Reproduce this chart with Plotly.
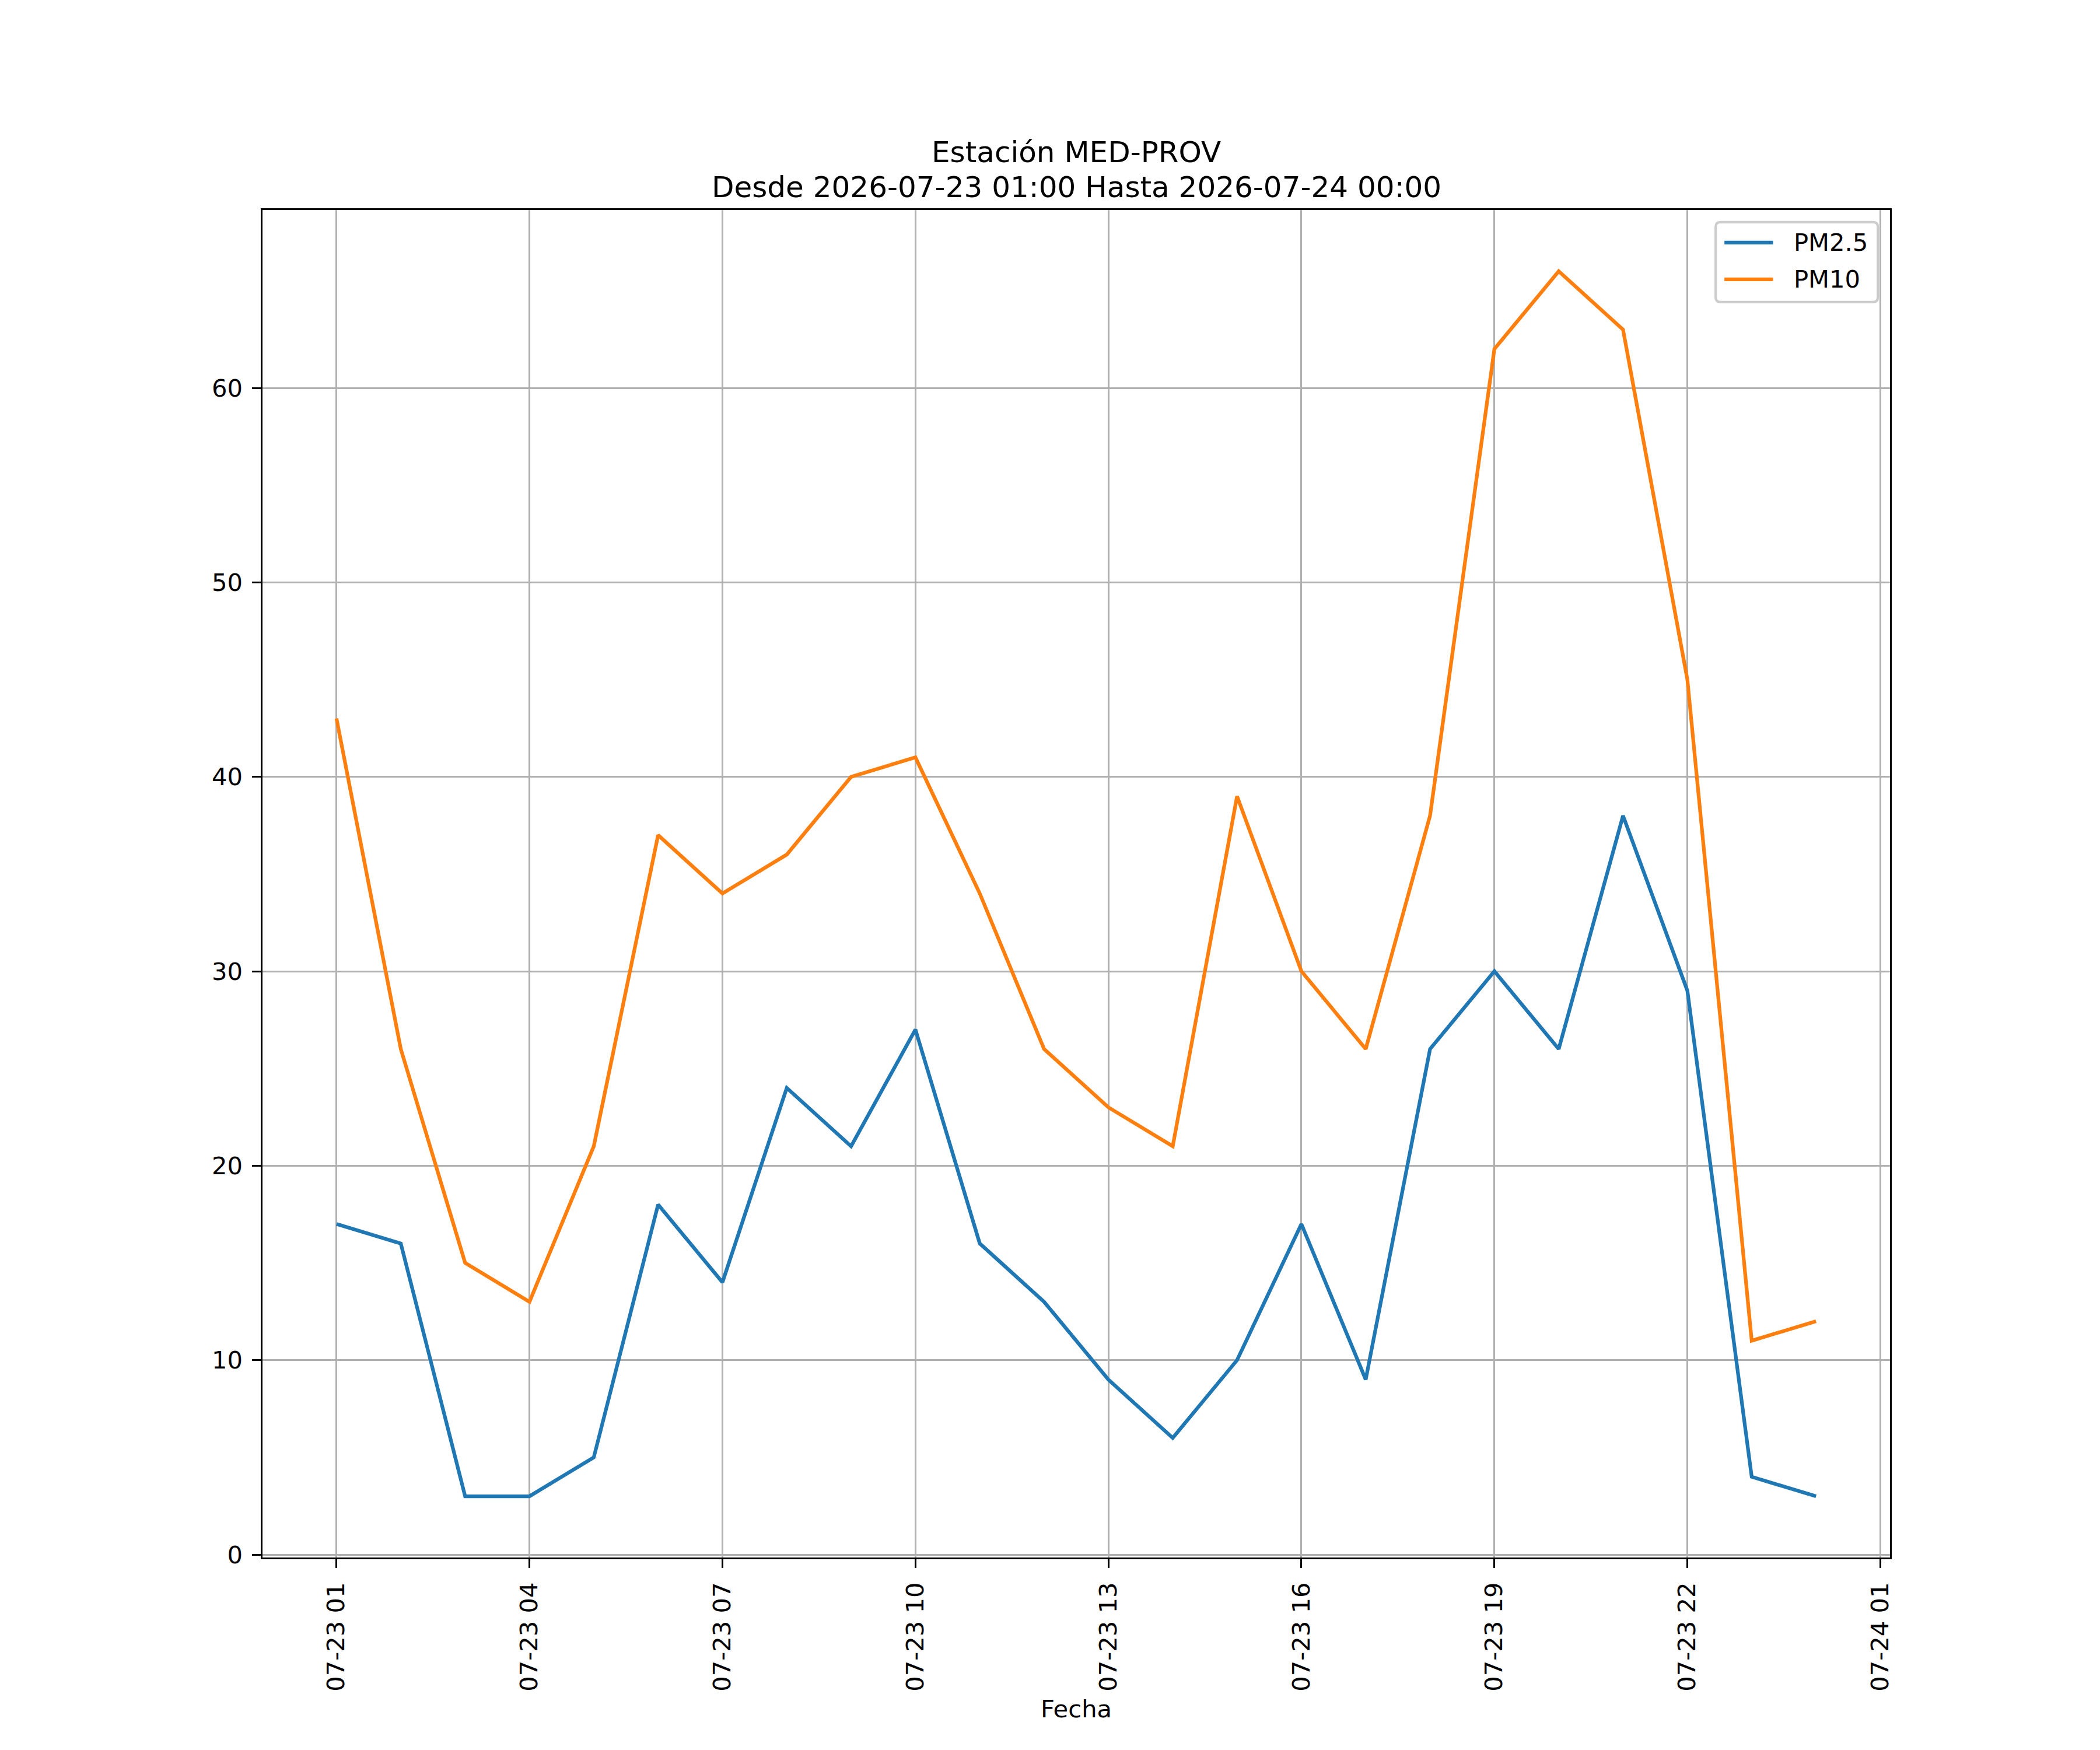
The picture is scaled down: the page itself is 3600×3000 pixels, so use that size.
import pandas as pd
import plotly.graph_objects as go

# Hourly readings, station MED-PROV
fechas = pd.date_range("2026-07-23 01:00", "2026-07-24 00:00", freq="h")
pm25 = [17, 16, 3, 3, 5, 18, 14, 24, 21, 27, 16, 13, 9, 6, 10, 17, 9, 26, 30, 26, 38, 29, 4, 3]
pm10 = [43, 26, 15, 13, 21, 37, 34, 36, 40, 41, 34, 26, 23, 21, 39, 30, 26, 38, 62, 66, 63, 45, 11, 12]
series = [("PM2.5", pm25, "#1f77b4"), ("PM10", pm10, "#ff7f0e")]

titulo_1 = "Estación MED-PROV"
titulo_2 = "Desde 2026-07-23 01:00 Hasta 2026-07-24 00:00"

# matplotlib-like 5% data margins
span = fechas[-1] - fechas[0]
x_range = [fechas[0] - span * 0.05, fechas[-1] + span * 0.05]
lo, hi = min(pm25 + pm10), max(pm25 + pm10)
y_range = [lo - (hi - lo) * 0.05, hi + (hi - lo) * 0.05]

FONT = "DejaVu Sans"
pt = 300 / 72  # px per point (12x10 in figure at 300 dpi)
fs = 10 * pt

# page body has an 8px margin, so shift everything by that
off = 8
W, H = 3600 - off, 3000 - off
ax_l, ax_r, ax_t, ax_b = 450, 3240, 360, 2670
ax_w, ax_h = ax_r - ax_l, ax_b - ax_t

fig = go.Figure()
for name, vals, color in series:
    fig.add_trace(go.Scatter(x=fechas, y=vals, mode="lines", name=name, showlegend=False,
                             line=dict(color=color, width=1.5 * pt)))

axis_common = dict(
    showline=True, linecolor="black", linewidth=0.8 * pt, mirror=True,
    showgrid=True, gridcolor="#b0b0b0", gridwidth=0.8 * pt,
    zeroline=False, ticks="outside", ticklen=3.5 * pt,
    tickwidth=0.8 * pt, tickcolor="black", ticklabelstandoff=8,
    tickfont=dict(family=FONT, size=fs, color="black"),
)

fig.update_xaxes(
    **axis_common,
    range=x_range, type="date",
    tick0="2026-07-23 01:00", dtick=3 * 3600 * 1000,
    tickformat="%m-%d %H", tickangle=-90,
    title=dict(text="Fecha", font=dict(family=FONT, size=fs, color="black"), standoff=17),
)
fig.update_yaxes(**axis_common, range=y_range, dtick=10, tick0=0)

# title, two lines like matplotlib (pad 6pt, line spacing 1.2)
tfs = 12 * pt
for i, txt in enumerate([titulo_2, titulo_1]):
    fig.add_annotation(text=txt, x=0.5, y=1, xref="paper", yref="paper",
                       xanchor="center", yanchor="bottom", showarrow=False,
                       yshift=6 * pt - 17 + i * 1.2 * tfs,
                       font=dict(family=FONT, size=tfs, color="black"))

# legend box drawn like matplotlib's (upper right)
def px(x):
    return (x - ax_l) / ax_w

def py(y):
    return (ax_b - y) / ax_h

pad = 0.5 * fs
bx1, by0 = ax_r - pad, ax_t + pad
bx0, by1 = bx1 - 278, by0 + 137
r = 8
path = (f"M {px(bx0 + r)},{py(by0)} L {px(bx1 - r)},{py(by0)} Q {px(bx1)},{py(by0)} {px(bx1)},{py(by0 + r)} "
        f"L {px(bx1)},{py(by1 - r)} Q {px(bx1)},{py(by1)} {px(bx1 - r)},{py(by1)} "
        f"L {px(bx0 + r)},{py(by1)} Q {px(bx0)},{py(by1)} {px(bx0)},{py(by1 - r)} "
        f"L {px(bx0)},{py(by0 + r)} Q {px(bx0)},{py(by0)} {px(bx0 + r)},{py(by0)} Z")
fig.add_shape(type="path", path=path, xref="paper", yref="paper",
              fillcolor="rgba(255,255,255,0.8)", line=dict(color="#cccccc", width=1 * pt))
for i, (name, vals, color) in enumerate(series):
    yy = by0 + 35 + i * 63
    fig.add_shape(type="line", xref="paper", yref="paper",
                  x0=px(bx0 + 15), x1=px(bx0 + 15 + 2 * fs), y0=py(yy), y1=py(yy),
                  line=dict(color=color, width=1.5 * pt))
    fig.add_annotation(text=name, x=px(bx0 + 15 + 2.8 * fs), y=py(yy), xref="paper", yref="paper",
                       xanchor="left", yanchor="middle", showarrow=False,
                       font=dict(family=FONT, size=fs, color="black"))

fig.update_layout(
    width=W, height=H,
    margin=dict(l=ax_l - off, r=W - (ax_r - off), t=ax_t - off, b=H - (ax_b - off)),
    paper_bgcolor="white", plot_bgcolor="white",
    font=dict(family=FONT, size=fs, color="black"),
    showlegend=False,
)

fig.write_html("out.html")
